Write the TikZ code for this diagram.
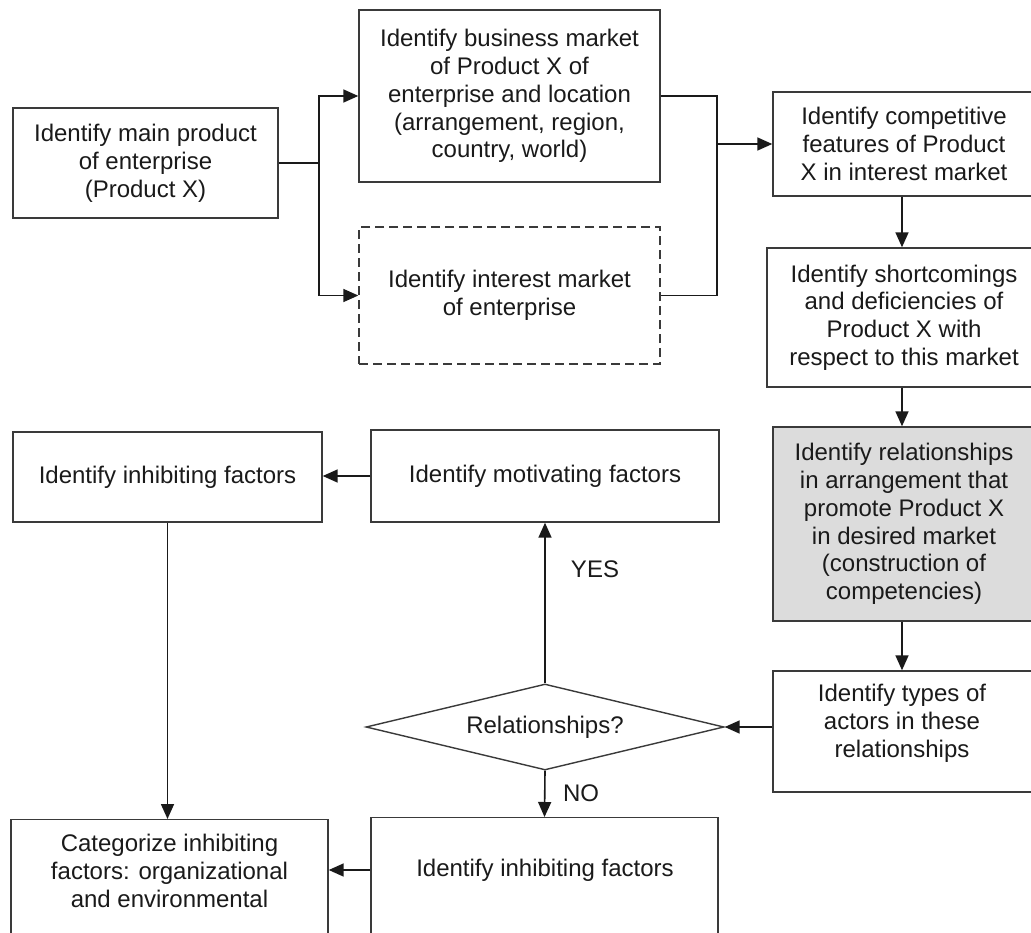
\documentclass[tikz,border=0pt]{standalone}
\usepackage{fontspec}
\setmainfont{Liberation Sans}
\usetikzlibrary{arrows.meta,shapes.geometric}
\definecolor{edge}{HTML}{3A3A3A}
\definecolor{shade}{HTML}{DCDCDC}
\definecolor{ink}{HTML}{1A1A1A}
\tikzset{
  box/.style={draw=edge, line width=1.4pt, rectangle, inner sep=0pt, align=center, text=ink,
    font=\fontsize{24}{27.8}\selectfont},
  txt/.style={align=center, text=ink, inner sep=0pt, font=\fontsize{24}{27.8}\selectfont},
  arr/.style={draw=ink, line width=1.6pt, -{Triangle[length=15pt,width=13pt]}},
  conn/.style={draw=ink, line width=1.6pt},
  dashbox/.style={box, dash pattern=on 9pt off 5pt},
  decision/.style={draw=edge, line width=1.4pt, diamond, inner sep=0pt, text=ink,
    shape aspect=4.16, font=\fontsize{24}{27.8}\selectfont}
}
\begin{document}
\begin{tikzpicture}[x=1pt,y=-1pt]
\useasboundingbox (0,0) rectangle (1031,932);
\clip (0,0) rectangle (1031,932);
\fill[white] (0,0) rectangle (1031,932);

% top row
\node[box, minimum width=265pt, minimum height=110pt] (A) at (145.5,163)
  {Identify main product\\of enterprise\\(Product X)};
\node[box, minimum width=301pt, minimum height=172pt] (B) at (509.5,96)
  {Identify business market\\of Product X of\\enterprise and location\\(arrangement, region,\\country, world)};
\node[dashbox, minimum width=301pt, minimum height=137pt] (C) at (509.5,295.5)
  {Identify interest market\\of enterprise};
\node[box, minimum width=262pt, minimum height=104pt] (D) at (904,144)
  {Identify competitive\\features of Product\\X in interest market};
\node[box, minimum width=274pt, minimum height=139pt] (E) at (904,317.5)
  {Identify shortcomings\\and deficiencies of\\Product X with\\respect to this market};
\node[box, fill=shade, minimum width=262pt, minimum height=194pt] (F) at (904,524)
  {Identify relationships\\in arrangement that\\promote Product X\\in desired market\\(construction of\\competencies)};
\node[box, minimum width=262pt, minimum height=121pt] (G) at (904,731.5) {};
\node[txt] (Gt) at (902,723) {Identify types of\\actors in these\\relationships};

% middle / left
\node[decision, minimum width=358pt, minimum height=86pt] (Q) at (545,727) {Relationships?};
\node[box, minimum width=348pt, minimum height=92pt] (H) at (545,476) {Identify motivating factors};
\node[box, minimum width=309pt, minimum height=90pt] (I) at (167.5,477) {Identify inhibiting factors};

% bottom row (cut off by the page edge)
\node[box, minimum width=317pt, minimum height=140pt, anchor=north] (J) at (169.5,819) {};
\node[txt] (Jt) at (169.5,871) {Categorize inhibiting\\factors: organizational\\and environmental};
\node[box, minimum width=347pt, minimum height=140pt, anchor=north] (K) at (544.5,817) {};
\node[txt] (Kt) at (545,870) {Identify inhibiting factors};

% labels
\node[txt] (yes) at (595,569) {YES};
\node[txt] (no) at (581,793) {NO};

% connectors
\coordinate (fork) at (319,163);
\coordinate (merge) at (717,144);
\draw[conn] (A.east) -- (fork);
\draw[arr] (fork) |- (B.west);
\draw[arr] (fork) |- (C.west);
\draw[conn] (B.east) -| (merge);
\draw[conn] (C.east) -| (merge);
\draw[arr] (merge) -- (D.west);
\draw[arr] (D.south -| 902,0) -- (E.north -| 902,0);
\draw[arr] (E.south -| 902,0) -- (F.north -| 902,0);
\draw[arr] (F.south -| 902,0) -- (G.north -| 902,0);
\draw[arr] (G.west |- Q.east) -- (Q.east);
\draw[arr] (Q.north) -- (H.south);
\draw[arr] (Q.south) -- (K.north);
\draw[arr] (H.west |- 0,476) -- (I.east |- 0,476);
\draw[arr] (I.south) -- (I.south |- J.north);
\draw[arr] (K.west |- Kt) -- (J.east |- Kt);
\end{tikzpicture}
\end{document}
